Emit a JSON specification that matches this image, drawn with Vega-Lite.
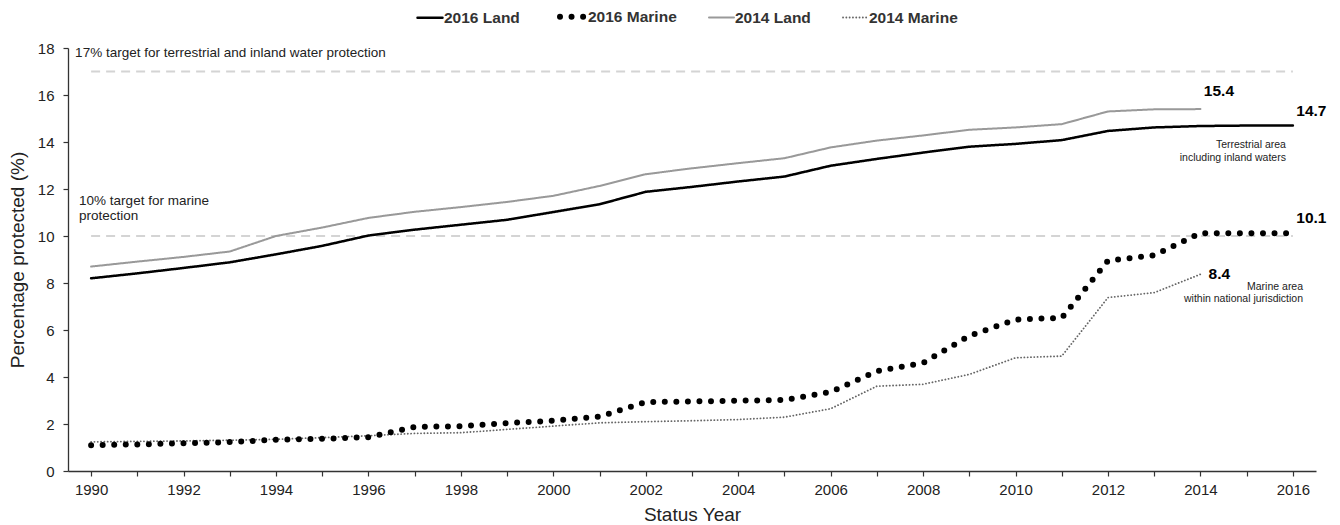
{
  "$schema": "https://vega.github.io/schema/vega-lite/v6.json",
  "autosize": {"type": "none"},
  "width": 1248,
  "height": 423,
  "padding": {"left": 68, "top": 48, "right": 24, "bottom": 54},
  "background": "white",
  "config": {
    "font": "Liberation Sans, Arial, sans-serif",
    "view": {"stroke": null},
    "axis": {
      "grid": false,
      "domainColor": "#333333",
      "domainWidth": 1.3,
      "tickColor": "#333333",
      "tickWidth": 1.2,
      "tickSize": 5,
      "labelFontSize": 15,
      "labelColor": "#222222",
      "titleFontSize": 19,
      "titleFontWeight": "normal",
      "titleColor": "#222222"
    }
  },
  "encoding": {
    "x": {
      "field": "year",
      "type": "quantitative",
      "title": "Status Year",
      "scale": {"domain": [1989.5, 2016.5], "nice": false, "zero": false},
      "axis": {
        "values": [1990,1991,1992,1993,1994,1995,1996,1997,1998,1999,2000,2001,2002,2003,2004,2005,2006,2007,2008,2009,2010,2011,2012,2013,2014,2015,2016],
        "format": "d",
        "labelExpr": "datum.value % 2 === 0 ? datum.label : ''",
        "labelPadding": 6,
        "titlePadding": 8
      }
    },
    "y": {
      "field": "value",
      "type": "quantitative",
      "title": "Percentage protected (%)",
      "scale": {"domain": [0, 18], "nice": false},
      "axis": {
        "values": [0,2,4,6,8,10,12,14,16,18],
        "labelPadding": 9,
        "titlePadding": 10
      }
    }
  },
  "layer": [
    {
      "data": {"values": [
        {"year": 1990, "year_end": 2016, "value": 17},
        {"year": 1990, "year_end": 2016, "value": 10}
      ]},
      "mark": {"type": "rule", "color": "#d4d4d4", "strokeWidth": 2, "strokeDash": [9, 6]},
      "encoding": {"x2": {"field": "year_end"}}
    },
    {
      "data": {"values": [
        {"series": "2014 Marine", "year": 1990, "value": 1.24},
        {"series": "2014 Marine", "year": 1991, "value": 1.26},
        {"series": "2014 Marine", "year": 1992, "value": 1.28},
        {"series": "2014 Marine", "year": 1993, "value": 1.31},
        {"series": "2014 Marine", "year": 1994, "value": 1.35},
        {"series": "2014 Marine", "year": 1995, "value": 1.42},
        {"series": "2014 Marine", "year": 1996, "value": 1.5},
        {"series": "2014 Marine", "year": 1997, "value": 1.6},
        {"series": "2014 Marine", "year": 1998, "value": 1.63},
        {"series": "2014 Marine", "year": 1999, "value": 1.77},
        {"series": "2014 Marine", "year": 2000, "value": 1.91},
        {"series": "2014 Marine", "year": 2001, "value": 2.05},
        {"series": "2014 Marine", "year": 2002, "value": 2.1},
        {"series": "2014 Marine", "year": 2003, "value": 2.14},
        {"series": "2014 Marine", "year": 2004, "value": 2.19},
        {"series": "2014 Marine", "year": 2005, "value": 2.29},
        {"series": "2014 Marine", "year": 2006, "value": 2.65},
        {"series": "2014 Marine", "year": 2007, "value": 3.61},
        {"series": "2014 Marine", "year": 2008, "value": 3.69},
        {"series": "2014 Marine", "year": 2009, "value": 4.11},
        {"series": "2014 Marine", "year": 2010, "value": 4.82},
        {"series": "2014 Marine", "year": 2011, "value": 4.89},
        {"series": "2014 Marine", "year": 2012, "value": 7.38},
        {"series": "2014 Marine", "year": 2013, "value": 7.59},
        {"series": "2014 Marine", "year": 2014, "value": 8.37},
        {"series": "2014 Land", "year": 1990, "value": 8.7},
        {"series": "2014 Land", "year": 1991, "value": 8.91},
        {"series": "2014 Land", "year": 1992, "value": 9.11},
        {"series": "2014 Land", "year": 1993, "value": 9.34},
        {"series": "2014 Land", "year": 1994, "value": 10.0},
        {"series": "2014 Land", "year": 1995, "value": 10.36},
        {"series": "2014 Land", "year": 1996, "value": 10.77},
        {"series": "2014 Land", "year": 1997, "value": 11.03},
        {"series": "2014 Land", "year": 1998, "value": 11.23},
        {"series": "2014 Land", "year": 1999, "value": 11.45},
        {"series": "2014 Land", "year": 2000, "value": 11.71},
        {"series": "2014 Land", "year": 2001, "value": 12.13},
        {"series": "2014 Land", "year": 2002, "value": 12.63},
        {"series": "2014 Land", "year": 2003, "value": 12.88},
        {"series": "2014 Land", "year": 2004, "value": 13.1},
        {"series": "2014 Land", "year": 2005, "value": 13.31},
        {"series": "2014 Land", "year": 2006, "value": 13.77},
        {"series": "2014 Land", "year": 2007, "value": 14.06},
        {"series": "2014 Land", "year": 2008, "value": 14.28},
        {"series": "2014 Land", "year": 2009, "value": 14.52},
        {"series": "2014 Land", "year": 2010, "value": 14.62},
        {"series": "2014 Land", "year": 2011, "value": 14.76},
        {"series": "2014 Land", "year": 2012, "value": 15.3},
        {"series": "2014 Land", "year": 2013, "value": 15.39},
        {"series": "2014 Land", "year": 2014, "value": 15.4},
        {"series": "2016 Land", "year": 1990, "value": 8.2},
        {"series": "2016 Land", "year": 1991, "value": 8.41},
        {"series": "2016 Land", "year": 1992, "value": 8.64},
        {"series": "2016 Land", "year": 1993, "value": 8.88},
        {"series": "2016 Land", "year": 1994, "value": 9.22},
        {"series": "2016 Land", "year": 1995, "value": 9.58},
        {"series": "2016 Land", "year": 1996, "value": 10.02},
        {"series": "2016 Land", "year": 1997, "value": 10.27},
        {"series": "2016 Land", "year": 1998, "value": 10.48},
        {"series": "2016 Land", "year": 1999, "value": 10.69},
        {"series": "2016 Land", "year": 2000, "value": 11.02},
        {"series": "2016 Land", "year": 2001, "value": 11.35},
        {"series": "2016 Land", "year": 2002, "value": 11.88},
        {"series": "2016 Land", "year": 2003, "value": 12.09},
        {"series": "2016 Land", "year": 2004, "value": 12.32},
        {"series": "2016 Land", "year": 2005, "value": 12.53},
        {"series": "2016 Land", "year": 2006, "value": 12.99},
        {"series": "2016 Land", "year": 2007, "value": 13.28},
        {"series": "2016 Land", "year": 2008, "value": 13.55},
        {"series": "2016 Land", "year": 2009, "value": 13.8},
        {"series": "2016 Land", "year": 2010, "value": 13.92},
        {"series": "2016 Land", "year": 2011, "value": 14.08},
        {"series": "2016 Land", "year": 2012, "value": 14.47},
        {"series": "2016 Land", "year": 2013, "value": 14.62},
        {"series": "2016 Land", "year": 2014, "value": 14.68},
        {"series": "2016 Land", "year": 2015, "value": 14.7},
        {"series": "2016 Land", "year": 2016, "value": 14.7},
        {"series": "2016 Marine", "year": 1990, "value": 1.1},
        {"series": "2016 Marine", "year": 1991, "value": 1.13},
        {"series": "2016 Marine", "year": 1992, "value": 1.18},
        {"series": "2016 Marine", "year": 1993, "value": 1.23},
        {"series": "2016 Marine", "year": 1994, "value": 1.33},
        {"series": "2016 Marine", "year": 1995, "value": 1.37},
        {"series": "2016 Marine", "year": 1996, "value": 1.44},
        {"series": "2016 Marine", "year": 1997, "value": 1.87},
        {"series": "2016 Marine", "year": 1998, "value": 1.91},
        {"series": "2016 Marine", "year": 1999, "value": 2.04},
        {"series": "2016 Marine", "year": 2000, "value": 2.14},
        {"series": "2016 Marine", "year": 2001, "value": 2.31},
        {"series": "2016 Marine", "year": 2002, "value": 2.93},
        {"series": "2016 Marine", "year": 2003, "value": 2.96},
        {"series": "2016 Marine", "year": 2004, "value": 2.99},
        {"series": "2016 Marine", "year": 2005, "value": 3.02},
        {"series": "2016 Marine", "year": 2006, "value": 3.36},
        {"series": "2016 Marine", "year": 2007, "value": 4.25},
        {"series": "2016 Marine", "year": 2008, "value": 4.6},
        {"series": "2016 Marine", "year": 2009, "value": 5.75},
        {"series": "2016 Marine", "year": 2010, "value": 6.44},
        {"series": "2016 Marine", "year": 2011, "value": 6.52},
        {"series": "2016 Marine", "year": 2012, "value": 8.95},
        {"series": "2016 Marine", "year": 2013, "value": 9.18},
        {"series": "2016 Marine", "year": 2014, "value": 10.12},
        {"series": "2016 Marine", "year": 2015, "value": 10.12},
        {"series": "2016 Marine", "year": 2016, "value": 10.12}
      ]},
      "mark": {"type": "line", "strokeCap": "round", "strokeJoin": "round"},
      "encoding": {
        "color": {
          "field": "series",
          "type": "nominal",
          "scale": {
            "domain": ["2016 Land", "2016 Marine", "2014 Land", "2014 Marine"],
            "range": ["#000000", "#000000", "#999999", "#666666"]
          },
          "legend": {
            "orient": "none",
            "legendX": 348,
            "legendY": -47,
            "direction": "horizontal",
            "title": null,
            "symbolType": "stroke",
            "symbolSize": 625,
            "labelFontSize": 15.5,
            "labelFontWeight": "bold",
            "labelColor": "#333333",
            "labelOffset": 0,
            "columnPadding": 28,
            "padding": 0,
            "encode": {"symbols": {"update": {"strokeCap": {"value": "round"}}}}
          }
        },
        "strokeDash": {
          "field": "series",
          "type": "nominal",
          "scale": {
            "domain": ["2016 Land", "2016 Marine", "2014 Land", "2014 Marine"],
            "range": [[1, 0], [0, 11.55], [1, 0], [0.1, 3.2]]
          }
        },
        "strokeWidth": {
          "field": "series",
          "type": "nominal",
          "scale": {
            "type": "ordinal",
            "domain": ["2016 Land", "2016 Marine", "2014 Land", "2014 Marine"],
            "range": [2.5, 6, 2, 1.8]
          }
        }
      }
    },
    {
      "data": {"values": [
        {"year": 1989.654, "value": 17.78, "label": "17% target for terrestrial and inland water protection"},
        {"year": 1989.74, "value": 11.47, "label": "10% target for marine"},
        {"year": 1989.74, "value": 10.83, "label": "protection"}
      ]},
      "mark": {"type": "text", "align": "left", "baseline": "middle", "fontSize": 13.5, "color": "#222222"},
      "encoding": {"text": {"field": "label"}}
    },
    {
      "data": {"values": [
        {"year": 2014.4, "value": 16.17, "label": "15.4"},
        {"year": 2016.4, "value": 15.32, "label": "14.7"},
        {"year": 2016.4, "value": 10.76, "label": "10.1"},
        {"year": 2014.41, "value": 8.37, "label": "8.4"}
      ]},
      "mark": {"type": "text", "align": "center", "baseline": "middle", "fontSize": 15.5, "fontWeight": "bold", "color": "#000000"},
      "encoding": {"text": {"field": "label"}}
    },
    {
      "data": {"values": [
        {"year": 2015.85, "value": 13.87, "label": "Terrestrial area"},
        {"year": 2015.85, "value": 13.31, "label": "including inland waters"},
        {"year": 2016.22, "value": 7.82, "label": "Marine area"},
        {"year": 2016.22, "value": 7.31, "label": "within national jurisdiction"}
      ]},
      "mark": {"type": "text", "align": "right", "baseline": "middle", "fontSize": 10.5, "color": "#222222"},
      "encoding": {"text": {"field": "label"}}
    }
  ]
}
